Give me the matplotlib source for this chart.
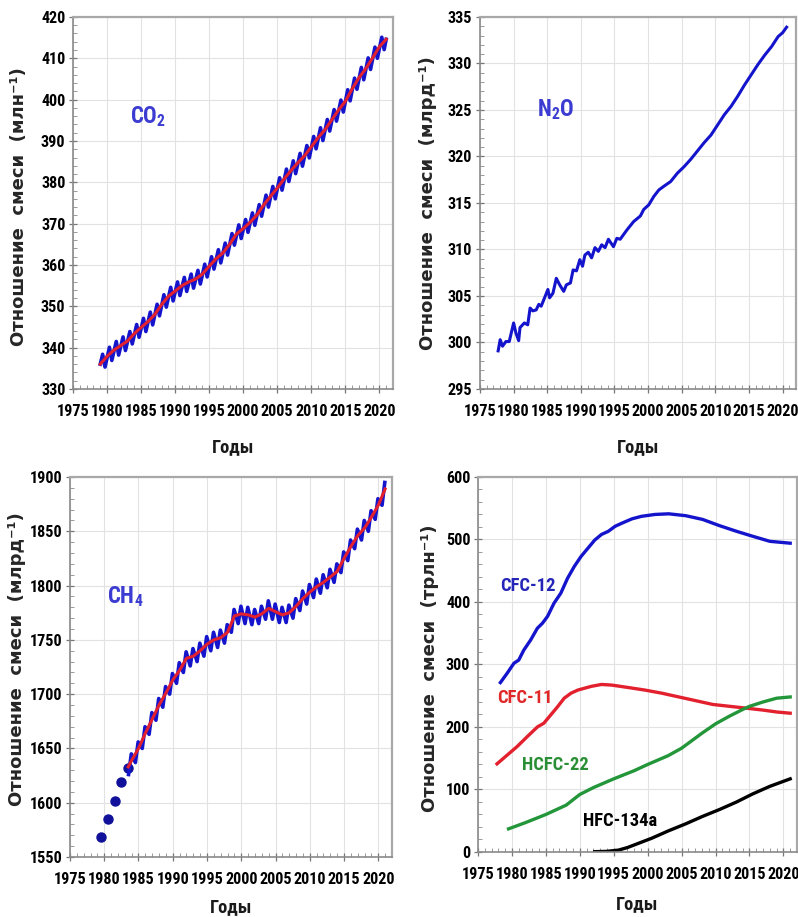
import numpy as np
import matplotlib.pyplot as plt
from matplotlib import font_manager
from matplotlib.ticker import MultipleLocator


def pick_bold_font(candidates, default='Liberation Sans'):
    # first family that ships a static bold face
    for name in candidates:
        for f in font_manager.fontManager.ttflist:
            w = f.weight
            if isinstance(w, str):
                w = 700 if 'bold' in w.lower() else 400
            if f.name == name and f.style == 'normal' and w >= 600:
                return name
    return default


NARROW = pick_bold_font(['Liberation Sans Narrow', 'Arial Narrow', 'Roboto Condensed',
                         'PT Sans Narrow', 'Archivo Narrow', 'Liberation Sans'])
plt.rcParams['font.family'] = [NARROW, 'DejaVu Sans']
plt.rcParams['font.weight'] = 'bold'
plt.rcParams['mathtext.fontset'] = 'custom'
plt.rcParams['mathtext.rm'] = NARROW + ':bold'
plt.rcParams['mathtext.it'] = NARROW + ':bold'
plt.rcParams['mathtext.bf'] = NARROW + ':bold'

# ---- CO2 (ppm): deseasonalised trend at the start of each year
co2_years = np.arange(1979, 2022)
co2_trend = [336.0, 337.9, 339.4, 340.5, 341.6, 343.4, 344.9, 346.3, 348.0, 350.4,
             352.4, 353.7, 355.0, 355.9, 356.6, 357.8, 359.7, 361.5, 362.9, 365.0,
             367.5, 368.8, 370.3, 372.1, 374.5, 376.6, 378.6, 380.8, 382.8, 384.7,
             386.4, 388.6, 390.8, 392.7, 395.1, 397.5, 399.6, 402.6, 405.3, 407.5,
             410.1, 412.8, 414.6]
# monthly means: spring maximum and late-summer minimum of every year 1979-2020
co2_high = [338.4, 340.1, 341.5, 342.6, 343.9, 345.6, 347.1, 348.6, 350.5, 352.8,
            354.6, 355.9, 357.0, 357.8, 358.7, 360.2, 362.0, 363.7, 365.3, 367.6,
            369.7, 371.0, 372.6, 374.6, 376.9, 379.0, 381.1, 383.2, 385.2, 387.0,
            388.9, 391.1, 393.2, 395.2, 397.6, 399.9, 402.4, 405.2, 407.8, 410.1,
            412.7, 415.1]
co2_low = [335.3, 336.9, 338.2, 339.3, 340.9, 342.5, 343.9, 345.5, 347.7, 349.8,
           351.3, 352.6, 353.6, 354.4, 355.4, 357.1, 359.0, 360.5, 362.4, 364.8,
           366.4, 367.9, 369.6, 371.8, 374.0, 376.0, 378.1, 380.2, 382.1, 383.9,
           385.9, 388.1, 390.1, 392.4, 394.8, 397.0, 399.7, 402.5, 404.8, 407.3,
           410.0, 412.1]

# ---- N2O (ppb)
n2o_years = [1977.7, 1978.0, 1978.35, 1978.85, 1979.35, 1980.0, 1980.35, 1980.75, 1980.95,
             1981.6, 1982.1, 1982.45, 1982.85, 1983.35, 1983.75, 1984.1, 1984.6, 1985.1,
             1985.35, 1985.85, 1986.35, 1986.85, 1987.45, 1987.85, 1988.45, 1988.85,
             1989.35, 1989.85, 1990.25, 1990.6, 1991.1, 1991.6, 1992.1, 1992.6, 1993.1,
             1993.6, 1994.1, 1994.85, 1995.35, 1995.85, 1996.85, 1997.85, 1998.85,
             1999.35, 2000.1, 2000.85, 2001.6, 2002.35, 2003.35, 2004.35, 2005.35,
             2006.35, 2007.35, 2008.35, 2009.35, 2010.35, 2011.35, 2012.35, 2013.35,
             2014.35, 2015.35, 2016.35, 2017.35, 2018.35, 2019.35, 2020.0, 2020.6]
n2o_values = [299.1, 300.3, 299.6, 300.1, 300.1, 302.1, 301.0, 300.2, 301.6,
              302.1, 301.9, 303.7, 303.4, 303.5, 304.1, 303.9, 304.8, 305.7,
              304.8, 305.3, 306.9, 306.2, 305.5, 306.2, 306.4, 307.8,
              307.7, 308.9, 308.2, 309.4, 309.7, 309.1, 310.2, 309.8, 310.5,
              310.2, 311.1, 310.3, 311.2, 311.1, 312.1, 313.0, 313.6,
              314.3, 314.8, 315.7, 316.4, 316.8, 317.3, 318.2, 318.9,
              319.7, 320.6, 321.5, 322.3, 323.4, 324.5, 325.4, 326.5,
              327.7, 328.8, 329.9, 330.9, 331.8, 332.9, 333.3, 333.9]

# ---- CH4 (ppb): early annual values, trend, seasonal extremes 1983-2020
ch4_early_years = [1979.5, 1980.5, 1981.5, 1982.5, 1983.5]
ch4_early = [1568, 1585, 1602, 1619, 1632]
ch4_trend_years = [1983.5] + list(range(1984, 2022))
ch4_trend = [1633, 1639, 1650, 1664, 1677, 1690, 1701, 1713, 1722, 1733, 1735,
             1740, 1746, 1750, 1752, 1757, 1772, 1774, 1773, 1771, 1774,
             1779, 1776, 1773, 1775, 1781, 1788, 1794, 1799, 1803, 1808,
             1813, 1825, 1836, 1846, 1853, 1863, 1874, 1889]
ch4_cycle_years = np.arange(1983, 2021)
ch4_low = [1626, 1637, 1650, 1663, 1676, 1688, 1700, 1710, 1720, 1726, 1730,
           1735, 1740, 1743, 1747, 1757, 1765, 1765, 1764, 1765, 1769, 1769,
           1766, 1766, 1770, 1777, 1783, 1789, 1793, 1798, 1803, 1812, 1823,
           1834, 1842, 1850, 1861, 1874]
ch4_high = [1645, 1656, 1670, 1683, 1696, 1707, 1719, 1729, 1739, 1742, 1747,
            1753, 1757, 1759, 1764, 1778, 1781, 1780, 1778, 1781, 1786, 1783,
            1780, 1782, 1788, 1795, 1801, 1806, 1810, 1815, 1820, 1831, 1842,
            1852, 1860, 1869, 1880, 1895]

# ---- halocarbons (ppt)
cfc12_years = [1978.3, 1979.3, 1980.3, 1981.0, 1981.75, 1982.75, 1983.75, 1984.5, 1985.25,
               1986.2, 1987.2, 1988.2, 1989.2, 1990.2, 1991.2, 1992.2, 1993.2, 1994.2,
               1995.2, 1996.2, 1997.7, 1999.1, 2001.1, 2003.1, 2005.6, 2008.1, 2010.6,
               2013.1, 2015.5, 2018.0, 2021.0]
cfc12 = [271, 286, 302, 307, 323, 339, 358, 366, 377, 398, 414, 438, 457, 473, 486,
         499, 508, 513, 521, 526, 533, 537, 540, 541, 538, 532, 522, 513, 505, 497, 494]
cfc11_years = [1977.8, 1979.3, 1980.8, 1982.3, 1983.75, 1984.7, 1985.7, 1986.7, 1987.7,
               1988.7, 1989.7, 1990.7, 1991.7, 1993.2, 1994.7, 1997.2, 1999.6, 2002.1,
               2004.6, 2007.1, 2009.6, 2012.1, 2014.6, 2017.0, 2019.0, 2021.0]
cfc11 = [141, 155, 169, 185, 200, 206, 219, 232, 246, 254, 259, 262, 265, 268, 267,
         263, 259, 254, 248, 242, 236, 233, 230, 227, 224, 222]
hcfc22_years = [1979.5, 1982, 1985, 1988, 1990, 1992, 1995, 1998, 2000, 2003, 2005,
                2007, 2008, 2010, 2012, 2014, 2015, 2017, 2019, 2021]
hcfc22 = [37, 47, 60, 75, 92, 103, 117, 130, 140, 154, 166, 182, 190, 205, 217, 228,
          233, 240, 246, 248]
hfc134a_years = [1992.2, 1994, 1995.7, 1997, 1998.2, 2000.6, 2003.1, 2005.6, 2008.1,
                 2010.6, 2013.1, 2015.5, 2018.0, 2021.0]
hfc134a = [0.5, 1, 3, 7, 12, 22, 34, 45, 57, 68, 80, 93, 105, 117]

BLUE = '#1414cc'
RED = '#e3202e'
GREEN = '#23963a'
LABEL_BLUE = '#3c3cd2'

fig = plt.figure(figsize=(7.98, 9.17), dpi=100)

# scale the tick font so a year label is about 32 px wide
probe = fig.text(0, 0, '2020', fontsize=10, fontweight='bold')
w10 = probe.get_window_extent(renderer=fig.canvas.get_renderer()).width
probe.remove()
TICK = min(14.0, 10 * 32.5 / w10)


def zigzag(years, first, second, off1, off2):
    years = np.asarray(years, dtype=float)
    x = np.column_stack([years + off1, years + off2]).ravel()
    y = np.column_stack([first, second]).ravel()
    return x, y


def style(ax, ylim, ymajor, yminor, ylabel, yl_pos, xl_y):
    ax.set_xlim(1975, 2022)
    ax.set_ylim(*ylim)
    ax.xaxis.set_major_locator(MultipleLocator(5))
    ax.xaxis.set_minor_locator(MultipleLocator(1))
    ax.yaxis.set_major_locator(MultipleLocator(ymajor))
    ax.yaxis.set_minor_locator(MultipleLocator(yminor))
    ax.grid(True, which='major', color='#e2e2e2', lw=0.8)
    ax.set_axisbelow(True)
    for side in ['left', 'bottom']:
        ax.spines[side].set_color('#8a8a8a')
        ax.spines[side].set_linewidth(1.2)
    for side in ['top', 'right']:
        ax.spines[side].set_color('#a8a8a8')
        ax.spines[side].set_linewidth(1.6)
    ax.tick_params(which='major', direction='inout', length=6, width=0.9, color='#777777',
                   labelsize=TICK, top=False, right=False)
    ax.tick_params(which='minor', direction='in', length=3, width=0.7, color='#999999',
                   top=False, right=False)
    ax.tick_params(axis='x', which='major', pad=8)
    ax.tick_params(axis='y', which='major', pad=2.5)
    ax.set_ylabel(ylabel, fontsize=13, family='DejaVu Sans', fontweight='bold',
                  color='#262626', va='center')
    ax.yaxis.set_label_coords(*yl_pos)
    ax.set_xlabel('Годы', fontsize=TICK * 1.15, fontweight='bold', color='#1a1a1a',
                  va='center')
    ax.xaxis.set_label_coords(0.5, xl_y)


ax1 = fig.add_axes([0.0915, 0.5758, 0.401, 0.4057])
ax2 = fig.add_axes([0.6015, 0.5758, 0.396, 0.4057])
ax3 = fig.add_axes([0.0877, 0.0654, 0.4035, 0.4144])
ax4 = fig.add_axes([0.599, 0.0709, 0.3997, 0.409])

GAS = TICK * 1.4
# CO2
x, y = zigzag(co2_years[:-1], co2_high, co2_low, 0.35, 0.7)
x = np.r_[co2_years[0], x, co2_years[-1]]
y = np.r_[co2_trend[0], y, co2_trend[-1]]
ax1.plot(x, y, color=BLUE, lw=2.6, zorder=2)
ax1.plot(co2_years, co2_trend, color=RED, lw=2.2, zorder=3)
ax1.text(1983.3, 396, 'CO$_2$', color=LABEL_BLUE, fontsize=GAS, ha='left', va='center')
style(ax1, (330, 420), 10, 2, 'Отношение  смеси  (млн⁻¹)', (-0.17, 0.49), -0.156)

# N2O
ax2.plot(n2o_years, n2o_values, color=BLUE, lw=2.2)
ax2.text(1983.5, 325, 'N$_2$O', color=LABEL_BLUE, fontsize=GAS, ha='left', va='center')
style(ax2, (295, 335), 5, 1, 'Отношение  смеси  (млрд⁻¹)', (-0.165, 0.5), -0.156)

# CH4
ax3.plot(ch4_early_years, ch4_early, 'o', color='#10109a', ms=6.5, zorder=2)
x, y = zigzag(ch4_cycle_years, ch4_low, ch4_high, 0.55, 0.95)
ax3.plot(x, y, color=BLUE, lw=2.6, zorder=2)
ax3.plot(ch4_trend_years, ch4_trend, color=RED, lw=2.2, zorder=3)
ax3.text(1980.4, 1790, 'CH$_4$', color=LABEL_BLUE, fontsize=GAS, ha='left', va='center')
style(ax3, (1550, 1900), 50, 10, 'Отношение  смеси  (млрд⁻¹)', (-0.165, 0.52), -0.133)

# halocarbons
HALO = TICK * 1.15
ax4.plot(cfc12_years, cfc12, color=BLUE, lw=2.4)
ax4.plot(cfc11_years, cfc11, color=RED, lw=2.4)
ax4.plot(hcfc22_years, hcfc22, color=GREEN, lw=2.4)
ax4.plot(hfc134a_years, hfc134a, color='black', lw=2.4)
ax4.text(1978.2, 426, 'CFC-12', color='#2424b8', fontsize=HALO, ha='left', va='center')
ax4.text(1977.8, 246, 'CFC-11', color='#e02828', fontsize=HALO, ha='left', va='center')
ax4.text(1981.5, 139, 'HCFC-22', color='#2a8f34', fontsize=HALO, ha='left', va='center')
ax4.text(1990.5, 50, 'HFC-134a', color='black', fontsize=HALO, ha='left', va='center')
style(ax4, (0, 600), 100, 20, 'Отношение  смеси  (трлн⁻¹)', (-0.15, 0.49), -0.14)

fig.savefig('out.png', dpi=100)
